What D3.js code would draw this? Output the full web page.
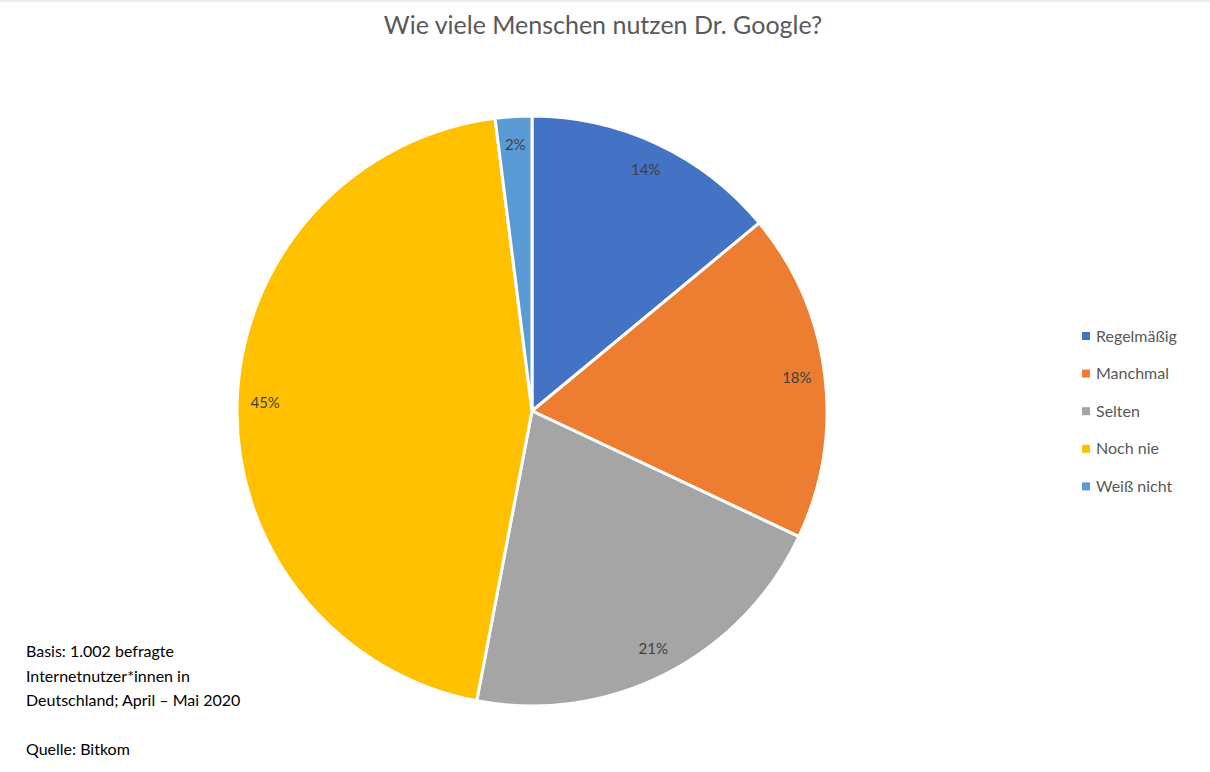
<!DOCTYPE html>
<html><head><meta charset="utf-8">
<script src="https://cdn.jsdelivr.net/npm/d3@7"></script>
<style>body{margin:0;background:#fff}</style></head>
<body><svg id="c" width="1210" height="772"></svg>
<script>
const categories=["Regelmäßig","Manchmal","Selten","Noch nie","Weiß nicht"];
const values=[14,18,21,45,2];
const colors=["#4472C4","#ED7D31","#A5A5A5","#FFC000","#5B9BD5"];
const noteLines=["Basis: 1.002 befragte","Internetnutzer*innen in","Deutschland; April – Mai 2020","","Quelle: Bitkom"];
const svg=d3.select("#c"),font="Lato, 'Open Sans', sans-serif";
svg.append("line").attr("x1",0).attr("x2",1210).attr("y1",1).attr("y2",1).attr("stroke","#d9d9d9");
svg.append("text").attr("x",603).attr("y",34).attr("text-anchor","middle").attr("font-family",font).attr("font-size",25).attr("fill","#595959").text("Wie viele Menschen nutzen Dr. Google?");
const cx=532,cy=411,r=295;
const pie=d3.pie().sort(null).value(d=>d)(values);
const g=svg.append("g").attr("transform",`translate(${cx},${cy})`);
g.selectAll("path").data(pie).join("path").attr("d",d3.arc().innerRadius(0).outerRadius(r)).attr("fill",(d,i)=>colors[i]).attr("stroke","#fff").attr("stroke-width",3);
const la=d3.arc().innerRadius(r*0.905).outerRadius(r*0.905);
g.selectAll("text").data(pie).join("text").attr("transform",d=>`translate(${la.centroid(d)})`).attr("text-anchor","middle").attr("dy","0.35em").attr("font-family",font).attr("font-size",15).attr("fill","#404040").text(d=>d.data+"%");
const leg=svg.append("g");
categories.forEach((c,i)=>{const y=336+i*37.6;
leg.append("rect").attr("x",1082).attr("y",y-4).attr("width",8).attr("height",8).attr("fill",colors[i]);
leg.append("text").attr("x",1096).attr("y",y).attr("dy","0.35em").attr("font-family",font).attr("font-size",16).attr("fill","#595959").text(c);});
noteLines.forEach((t,i)=>svg.append("text").attr("x",26).attr("y",657+i*24.5).attr("font-family",font).attr("font-size",16).attr("fill","#000").text(t));
</script></body></html>
